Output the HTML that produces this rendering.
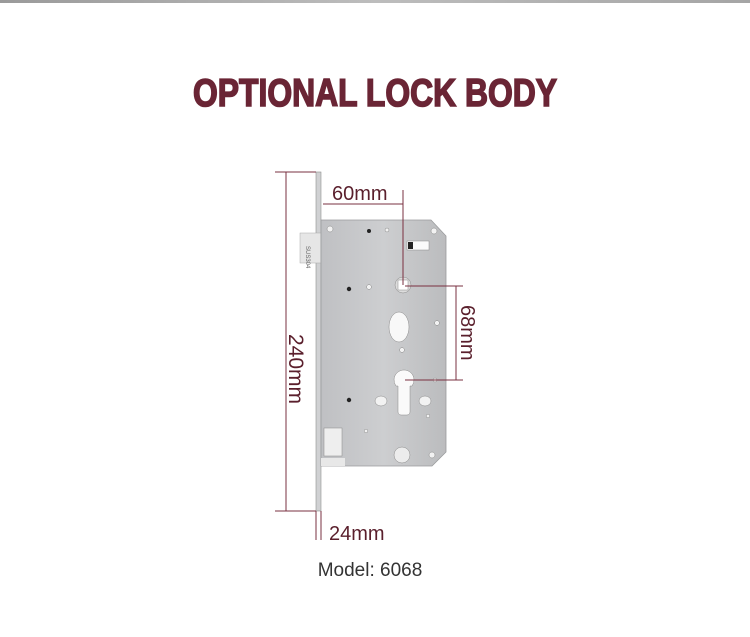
<!DOCTYPE html>
<html><head><meta charset="utf-8"><style>
html,body{margin:0;padding:0;background:#fff;}
body{width:750px;height:632px;overflow:hidden;}
</style></head><body>
<svg width="750" height="632" viewBox="0 0 750 632" xmlns="http://www.w3.org/2000/svg" font-family="Liberation Sans, sans-serif">
<defs><linearGradient id="tg" x1="0" x2="1"><stop offset="0" stop-color="#9a9a9a"/><stop offset="0.5" stop-color="#bdbdbd"/><stop offset="1" stop-color="#a5a5a5"/></linearGradient>
<linearGradient id="bg" x1="0" x2="1"><stop offset="0" stop-color="#bfc0c3"/><stop offset="0.5" stop-color="#cdced0"/><stop offset="1" stop-color="#bbbcbe"/></linearGradient></defs>
<rect x="0" y="0" width="750" height="3" fill="url(#tg)"/>
<text x="375" y="106" text-anchor="middle" font-size="39" font-weight="bold" fill="#6a2535" stroke="#6a2535" stroke-width="1.6" textLength="364" lengthAdjust="spacingAndGlyphs">OPTIONAL LOCK BODY</text>
<!-- faceplate -->
<rect x="316" y="172" width="5" height="339" fill="#d0d1d3" stroke="#8f8f8f" stroke-width="0.6"/>
<!-- bolt -->
<rect x="300" y="233" width="21" height="30" fill="#e6e6e6" stroke="#aaa" stroke-width="0.5"/>
<text x="304" y="248" font-size="6" fill="#666" transform="rotate(90 306 248)">SUS304</text>
<rect x="321" y="233" width="20" height="30" fill="#eee" stroke="#aaa" stroke-width="0.5"/>
<rect x="325" y="238" width="12" height="20" fill="#aaa"/>
<!-- body -->
<polygon points="321,220 431,220 446,236 446,452 432,466 321,466" fill="url(#bg)" stroke="#9a9b9d" stroke-width="0.8"/>
<rect x="321" y="458" width="24" height="8" fill="#e8e8e8"/>
<g fill="#222"><circle cx="369" cy="231" r="2"/><circle cx="349" cy="289" r="2.2"/><circle cx="349" cy="400" r="2.2"/></g>
<g fill="#f2f2f2" stroke="#888" stroke-width="0.5">
<circle cx="387" cy="230" r="2"/><circle cx="369" cy="287" r="2.4"/><circle cx="437" cy="323" r="2.4"/><circle cx="402" cy="350" r="2.4"/><circle cx="435" cy="380" r="2"/><circle cx="428" cy="416" r="1.8"/><circle cx="366" cy="431" r="1.8"/>
<circle cx="330" cy="229" r="3"/><circle cx="434" cy="231" r="3"/><circle cx="432" cy="455" r="3"/>
<circle cx="403" cy="285" r="8" fill="#ddd"/><rect x="398" y="280" width="10" height="10" fill="#fff"/>
<ellipse cx="399" cy="327" rx="10" ry="15" fill="#f8f8f8"/>
<path d="M396,386 a10,10 0 1 1 16,0 l-2,0 v26 a3,3 0 0 1 -3,3 h-6 a3,3 0 0 1 -3,-3 v-26 z" fill="#fafafa"/>
<ellipse cx="381" cy="401" rx="6" ry="5"/><ellipse cx="425" cy="401" rx="6" ry="5"/>
<circle cx="402" cy="455" r="8" fill="#ececec"/>
<rect x="407" y="241" width="22" height="9" fill="#fafafa"/>
<rect x="324" y="428" width="18" height="28" fill="#eee"/>
</g>
<rect x="408" y="242" width="5" height="7" fill="#222"/>
<!-- dimension lines -->
<g stroke="#7a3040" stroke-width="1" fill="none">
<path d="M286,172V511 M275,172H316 M275,511H316"/>
<path d="M323,204H403 M403,190V285 M405,286H463 M456,286V380 M405,380H463"/>
<path d="M316,511V540 M321,511V540"/>
</g>
<g fill="#5a1f2c" font-size="20">
<text x="332" y="200">60mm</text>
<text x="329" y="540">24mm</text>
<text transform="translate(289,334) rotate(90)" font-size="21">240mm</text>
<text transform="translate(461,305) rotate(90)">68mm</text>
</g>
<text x="370" y="576" text-anchor="middle" font-size="19" fill="#333">Model: 6068</text>
</svg>
</body></html>
